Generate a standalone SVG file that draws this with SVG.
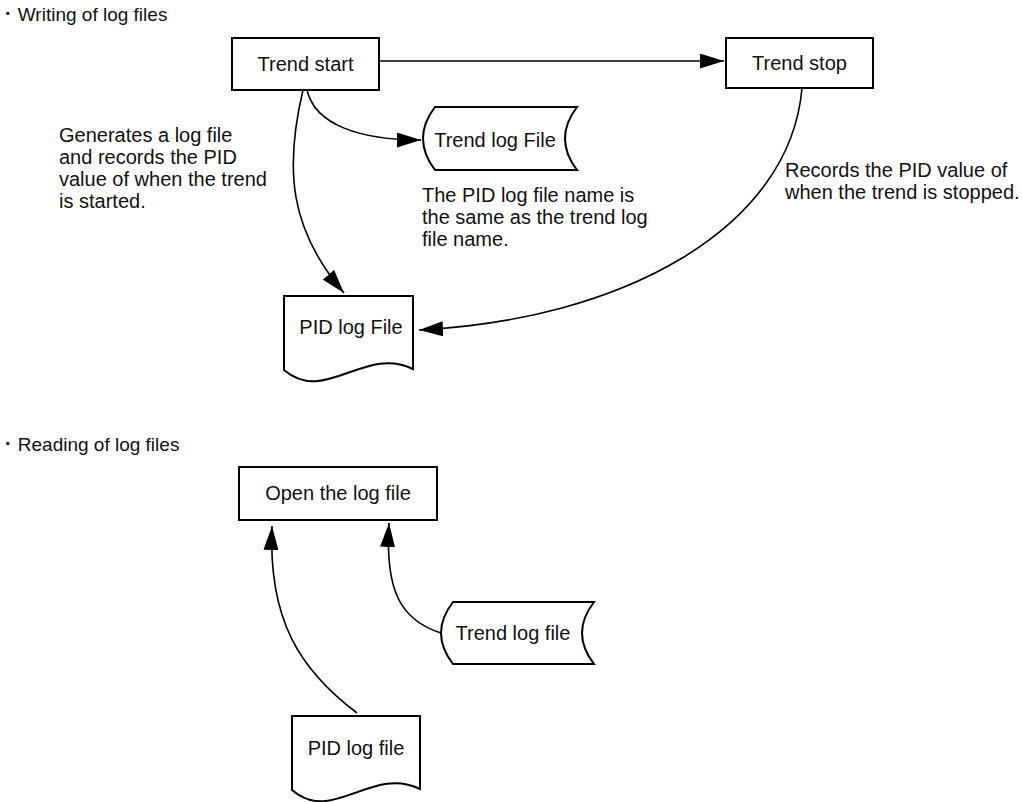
<svg xmlns="http://www.w3.org/2000/svg" width="1022" height="802" viewBox="0 0 1022 802">
  <style>
    .bg { fill: #ffffff; }
    .shape { fill: #ffffff; stroke: #000000; stroke-width: 2; }
    .edge { fill: none; stroke: #000000; stroke-width: 1.6; }
    .label { font-family: "Liberation Sans", Arial, "Noto Sans CJK JP", sans-serif; font-size: 20px; fill: #111111; }
    .heading { font-family: "Liberation Sans", Arial, "Noto Sans CJK JP", sans-serif; font-size: 19px; fill: #111111; }
    .mid { text-anchor: middle; }
  </style>
  <defs>
    <marker id="arrow" markerUnits="userSpaceOnUse" markerWidth="24" markerHeight="15" refX="24" refY="7.5" orient="auto">
      <path d="M0,0 L24,7.5 L0,15 Z" fill="#000000"/>
    </marker>
  </defs>

  <rect class="bg" x="0" y="0" width="1022" height="802"/>

  <!-- Section headings -->
  <text class="heading" x="3" y="21">･ Writing of log files</text>
  <text class="heading" x="3" y="451">･ Reading of log files</text>

  <!-- Writing section -->
  <g id="trend-start">
    <rect class="shape" x="232" y="38" width="147" height="52"/>
    <text class="label mid" x="305.5" y="71">Trend start</text>
  </g>

  <g id="trend-stop">
    <rect class="shape" x="726" y="38" width="147" height="50"/>
    <text class="label mid" x="799.5" y="70">Trend stop</text>
  </g>

  <g id="trend-log-write">
    <path class="shape" d="M435,107 H577 Q553,138.5 577,170 H435 Q411,138.5 435,107 Z"/>
    <text class="label mid" x="495" y="147">Trend log File</text>
  </g>

  <g id="pid-log-write">
    <path class="shape" d="M284,296 H413 V369 C365,345 325,405 284,370 Z"/>
    <text class="label mid" x="351" y="334">PID log File</text>
  </g>

  <g id="note-start">
    <text class="label" x="59" y="142">Generates a log file</text>
    <text class="label" x="59" y="164">and records the PID</text>
    <text class="label" x="59" y="186">value of when the trend</text>
    <text class="label" x="59" y="208">is started.</text>
  </g>

  <g id="note-name">
    <text class="label" x="422" y="202">The PID log file name is</text>
    <text class="label" x="422" y="224">the same as the trend log</text>
    <text class="label" x="422" y="246">file name.</text>
  </g>

  <g id="note-stop">
    <text class="label" x="785" y="177">Records the PID value of</text>
    <text class="label" x="785" y="199">when the trend is stopped.</text>
  </g>

  <!-- Reading section -->
  <g id="open-log">
    <rect class="shape" x="239" y="467" width="198" height="53"/>
    <text class="label mid" x="338" y="500">Open the log file</text>
  </g>

  <g id="trend-log-read">
    <path class="shape" d="M453,602 H594 Q570,633 594,664 H453 Q429,633 453,602 Z"/>
    <text class="label mid" x="513" y="640">Trend log file</text>
  </g>

  <g id="pid-log-read">
    <path class="shape" d="M292,716 H420 V789 C372,765 332,825 292,790 Z"/>
    <text class="label mid" x="356" y="755">PID log file</text>
  </g>

  <!-- Connectors -->
  <g id="connectors">
    <path class="edge" d="M379,61 H724" marker-end="url(#arrow)"/>
    <path class="edge" d="M307,90 C315,125 360,140 421,140" marker-end="url(#arrow)"/>
    <path class="edge" d="M303,90 C284,170 290,230 344,293" marker-end="url(#arrow)"/>
    <path class="edge" d="M802,88 C790,230 620,320 419,330" marker-end="url(#arrow)"/>
    <path class="edge" d="M357,713 C300,670 268,620 272,526" marker-end="url(#arrow)"/>
    <path class="edge" d="M441,633 C400,620 385,590 389,523" marker-end="url(#arrow)"/>
  </g>
</svg>
